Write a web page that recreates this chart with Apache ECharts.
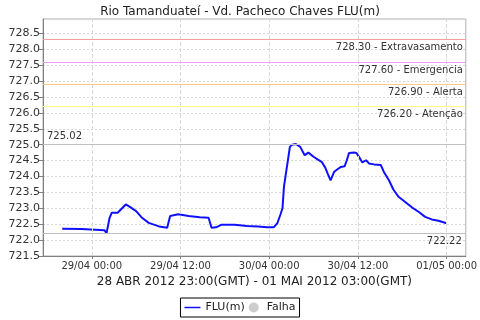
<!DOCTYPE html>
<html><head><meta charset="utf-8">
<script src="https://cdn.jsdelivr.net/npm/echarts@6/dist/echarts.min.js"></script>
<style>html,body{margin:0;padding:0;background:#fff}#c{width:480px;height:320px}</style>
</head><body><div id="c"></div>
<script>
// hours relative to 29/04 00:00 (local time)
const hours = [-4, -1.4, -1.2, 1.7, 2.0, 2.4, 2.7, 3.5, 4.6, 5.1, 6.0, 6.8, 7.7, 9.1, 10.2, 10.4, 10.6, 11.7, 13.1, 14.6, 15.8, 16.0, 16.2, 16.8, 17.5, 19.3, 21.0, 22.5, 23.7, 24.6, 25.1, 25.5, 25.8, 26.0, 26.3, 26.5, 26.8, 27.1, 27.6, 28.2, 28.8, 29.3, 30.0, 30.6, 31.1, 31.6, 31.9, 32.3, 32.5, 32.8, 33.2, 33.7, 34.2, 34.5, 34.8, 35.5, 35.8, 36.3, 36.6, 37.1, 37.5, 38.2, 39.1, 39.5, 40.2, 40.8, 41.5, 42.4, 43.3, 44.2, 45.1, 46.0, 46.9, 48.0];
const flu = [722.36, 722.35, 722.32, 722.31, 722.22, 722.69, 722.86, 722.86, 723.12, 723.05, 722.91, 722.70, 722.54, 722.43, 722.39, 722.39, 722.76, 722.81, 722.76, 722.72, 722.70, 722.70, 722.39, 722.40, 722.48, 722.48, 722.44, 722.43, 722.40, 722.40, 722.53, 722.79, 723.00, 723.68, 724.15, 724.46, 724.93, 725.00, 725.02, 724.93, 724.67, 724.75, 724.62, 724.53, 724.46, 724.27, 724.10, 723.88, 723.86, 724.15, 724.22, 724.30, 724.32, 724.51, 724.74, 724.75, 724.74, 724.56, 724.44, 724.51, 724.41, 724.38, 724.36, 724.15, 723.88, 723.59, 723.36, 723.20, 723.03, 722.89, 722.73, 722.65, 722.61, 722.53];
const tickHours = [0, 12, 24, 36, 48];
const tickLabels = ['29/04 00:00', '29/04 12:00', '30/04 00:00', '30/04 12:00', '01/05 00:00'];
const thresholdValues = [728.30, 727.60, 726.90, 726.20];
const thresholdNames = ['Extravasamento', 'Emergencia', 'Alerta', 'Atenção'];
const thresholdColors = ['#f4a0a0', '#ee9eee', '#ffc88c', '#ffff8c'];
const maxValue = 725.02;
const minValue = 722.22;
const title = 'Rio Tamanduateí - Vd. Pacheco Chaves FLU(m)';
const xName = '28 ABR 2012 23:00(GMT) - 01 MAI 2012 03:00(GMT)';

const F = 'DejaVu Sans';
const chart = echarts.init(document.getElementById('c'), null, {renderer: 'canvas'});
const markData = thresholdValues.map((v, i) => ({
  yAxis: v,
  lineStyle: {color: thresholdColors[i], width: 1, type: 'solid'},
  label: {show: true, position: 'insideEndBottom', formatter: v.toFixed(2) + ' - ' + thresholdNames[i],
    color: '#333', fontFamily: F, fontSize: 10, distance: [3, 3]}
}));
markData.push({yAxis: maxValue, lineStyle: {color: '#c0c0c0', width: 1, type: 'solid'},
  label: {show: true, position: 'insideStartTop', formatter: maxValue.toFixed(2), color: '#333', fontFamily: F, fontSize: 10, distance: [4, 3]}});
markData.push({yAxis: minValue, lineStyle: {color: '#c0c0c0', width: 1, type: 'solid'},
  label: {show: true, position: 'insideEndBottom', formatter: minValue.toFixed(2), color: '#333', fontFamily: F, fontSize: 10, distance: [4, 3]}});

chart.setOption({
  animation: false,
  title: {text: title, left: 'center', top: 1, textStyle: {fontFamily: F, fontSize: 12, fontWeight: 'normal', color: '#222'}},
  grid: {left: 43, right: 8, top: 19, bottom: 64, show: true, borderColor: '#b0b0b0', borderWidth: 1},
  legend: {
    bottom: 3, left: 'center', borderColor: '#000', borderWidth: 1, padding: [4, 4], itemGap: 4, itemWidth: 16, itemHeight: 10,
    textStyle: {fontFamily: F, fontSize: 11, color: '#222'},
    data: [{name: 'FLU(m)', icon: 'path://M0,5L16,5L16,6.5L0,6.5Z'}, {name: 'Falha', icon: 'circle'}]
  },
  xAxis: {
    type: 'value', min: -6.6, max: 50.6,
    name: xName, nameLocation: 'middle', nameGap: 19,
    nameTextStyle: {fontFamily: F, fontSize: 12, color: '#222'},
    axisLine: {onZero: false, lineStyle: {color: '#808080'}},
    axisTick: {show: true, length: 3, inside: false, customValues: tickHours, lineStyle: {color: '#808080'}},
    axisLabel: {customValues: tickHours, formatter: v => tickLabels[tickHours.indexOf(v)] || '', fontFamily: F, fontSize: 10, color: '#333', margin: 5},
    splitLine: {show: false}
  },
  yAxis: {
    type: 'value', min: 721.5, max: 728.95, interval: 0.5,
    axisLine: {show: true, onZero: false, lineStyle: {color: '#808080'}},
    axisTick: {show: true, length: 4, lineStyle: {color: '#808080'}},
    axisLabel: {showMaxLabel: false, formatter: v => v.toFixed(1), fontFamily: F, fontSize: 11, color: '#333', margin: 3},
    splitLine: {show: true, lineStyle: {color: '#d8d8d8', type: [2, 2]}}
  },
  series: [
    {name: 'grid', type: 'line', data: [], silent: true, z: 1,
      markLine: {silent: true, symbol: 'none', animation: false,
        lineStyle: {color: '#d8d8d8', width: 1, type: 'dashed'}, label: {show: false},
        data: tickHours.map(h => ({xAxis: h}))}},
    {name: 'FLU(m)', type: 'line', data: hours.map((h, i) => [h, flu[i]]), showSymbol: false, symbol: 'none', z: 3,
      lineStyle: {color: '#1010ff', width: 2}, itemStyle: {color: '#1010ff'},
      markLine: {silent: true, symbol: 'none', animation: false, data: markData}},
    {name: 'Falha', type: 'scatter', data: [], itemStyle: {color: '#c0c0c0'}}
  ]
});
</script></body></html>
